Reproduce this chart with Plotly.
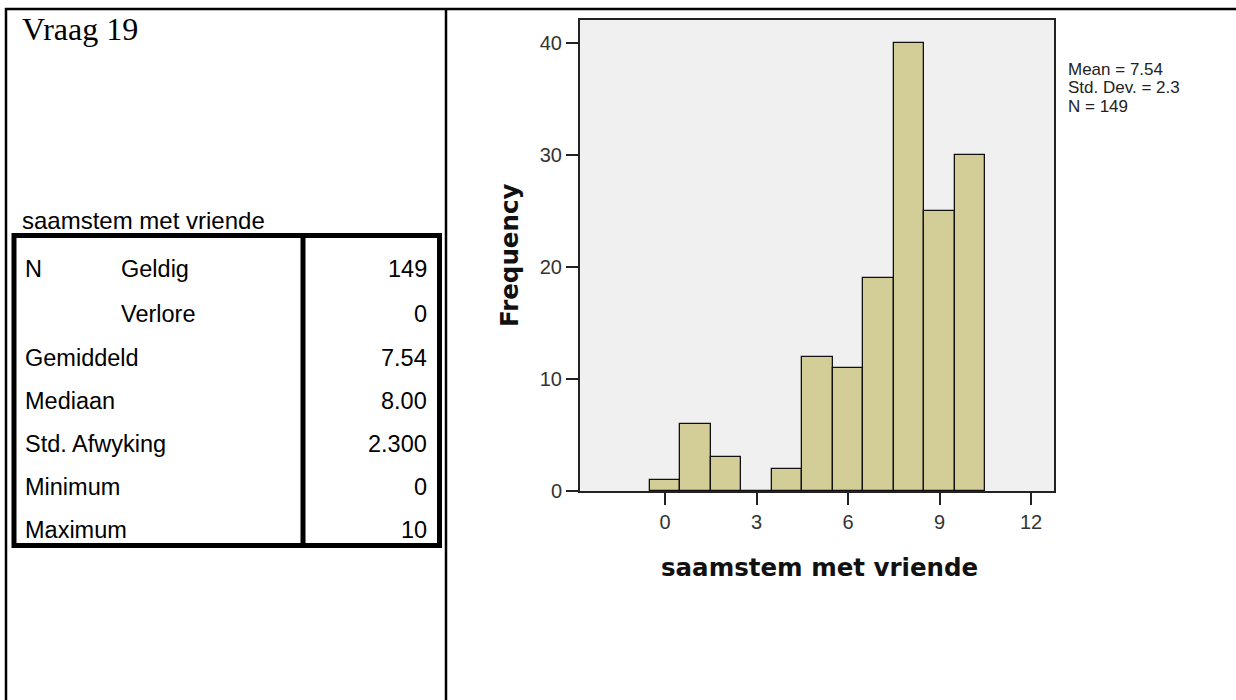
import plotly.graph_objects as go

# ---------------- data ----------------
bin_centers = [0, 1, 2, 3, 4, 5, 6, 7, 8, 9, 10]
frequencies = [1, 6, 3, 0, 2, 12, 11, 19, 40, 25, 30]
x_tick_vals = [0, 3, 6, 9, 12]
y_tick_vals = [0, 10, 20, 30, 40]

row_labels_a = ["N", "", "Gemiddeld", "Mediaan", "Std. Afwyking", "Minimum", "Maximum"]
row_labels_b = ["Geldig", "Verlore", "", "", "", "", ""]
row_values = ["149", "0", "7.54", "8.00", "2.300", "0", "10"]

stats_lines = ["Mean = 7.54", "Std. Dev. = 2.3", "N = 149"]
question_title = "Vraag 19"
variable_name = "saamstem met vriende"

W, H = 1236, 700


def px(x):
    return x / W


def py(y):
    return 1 - y / H


fig = go.Figure()
fig.add_trace(go.Bar(
    x=bin_centers, y=frequencies, width=1,
    marker=dict(color="#d3ce97", line=dict(color="#111111", width=1.3)),
    hoverinfo="x+y", showlegend=False,
))

axis_font = dict(family="Liberation Sans, Arial, sans-serif", size=20, color="#333333")

fig.update_layout(
    template="none",
    width=W, height=H,
    margin=dict(l=0, r=0, t=0, b=0),
    paper_bgcolor="white",
    plot_bgcolor="#f0f0f0",
    bargap=0,
    xaxis=dict(
        domain=[px(580), px(1054)], range=[-2.787, 12.75],
        tickvals=x_tick_vals, ticks="outside", ticklen=12, tickwidth=2, tickcolor="#222222",
        showline=True, linecolor="#222222", linewidth=2, mirror=True,
        showgrid=False, zeroline=False, tickfont=axis_font, automargin=False,
    ),
    yaxis=dict(
        domain=[py(491), py(20)], range=[0, 42.05],
        tickvals=y_tick_vals, ticks="outside", ticklen=12, tickwidth=2, tickcolor="#222222",
        showline=True, linecolor="#222222", linewidth=2, mirror=True,
        showgrid=False, zeroline=False, tickfont=axis_font, automargin=False,
    ),
)

annotations = []
title_font = dict(family="DejaVu Sans, Verdana, sans-serif", size=24.5, color="#111111")
annotations.append(dict(x=px(819), y=py(567), xref="paper", yref="paper", text="<b>%s</b>" % variable_name,
                        showarrow=False, font=title_font, xanchor="center", yanchor="middle"))
annotations.append(dict(x=px(510), y=py(256), xref="paper", yref="paper", text="<b>Frequency</b>",
                        showarrow=False, font=title_font, textangle=-90, xanchor="center", yanchor="middle"))

stat_font = dict(family="Liberation Sans, Arial, sans-serif", size=17, color="#222222")
for i, line in enumerate(stats_lines):
    annotations.append(dict(x=px(1067), y=py(70 + 18 * i), xref="paper", yref="paper", text=line,
                            showarrow=False, font=stat_font, xanchor="left", yanchor="middle",
                            borderpad=0))

# left panel
annotations.append(dict(x=px(20), y=py(29), xref="paper", yref="paper", text=question_title,
                        showarrow=False, xanchor="left", yanchor="middle",
                        font=dict(family="Liberation Serif, Times New Roman, serif", size=32, color="#000000")))
annotations.append(dict(x=px(20), y=py(220), xref="paper", yref="paper", text=variable_name,
                        showarrow=False, xanchor="left", yanchor="middle",
                        font=dict(family="Liberation Sans, Arial, sans-serif", size=24, color="#000000")))

tab_font = dict(family="Liberation Sans, Arial, sans-serif", size=23.5, color="#000000")
row_y = [269, 314, 358, 401, 444, 487, 530]
for i in range(len(row_values)):
    if row_labels_a[i]:
        annotations.append(dict(x=px(23), y=py(row_y[i]), xref="paper", yref="paper", text=row_labels_a[i],
                                showarrow=False, xanchor="left", yanchor="middle", font=tab_font))
    if row_labels_b[i]:
        annotations.append(dict(x=px(119), y=py(row_y[i]), xref="paper", yref="paper", text=row_labels_b[i],
                                showarrow=False, xanchor="left", yanchor="middle", font=tab_font))
    annotations.append(dict(x=px(429), y=py(row_y[i]), xref="paper", yref="paper", text=row_values[i],
                            showarrow=False, xanchor="right", yanchor="middle", font=tab_font))

fig.update_layout(annotations=annotations)

shapes = []
frame = dict(color="#000000", width=2.5)
shapes.append(dict(type="line", xref="paper", yref="paper", x0=px(5), x1=px(1236), y0=py(9), y1=py(9), line=frame))
shapes.append(dict(type="line", xref="paper", yref="paper", x0=px(6), x1=px(6), y0=py(8), y1=py(700), line=frame))
shapes.append(dict(type="line", xref="paper", yref="paper", x0=px(446), x1=px(446), y0=py(8), y1=py(700), line=frame))
thick = dict(color="#000000", width=5)
shapes.append(dict(type="rect", xref="paper", yref="paper", x0=px(14), x1=px(439.5), y0=py(235.5), y1=py(545.5), line=thick))
shapes.append(dict(type="line", xref="paper", yref="paper", x0=px(303), x1=px(303), y0=py(235.5), y1=py(545.5), line=thick))
fig.update_layout(shapes=shapes)

fig.write_html(
    "out.html",
    config={"displayModeBar": False},
    post_script="document.body.style.margin='0';document.body.style.padding='0';document.body.style.overflow='hidden';",
)
